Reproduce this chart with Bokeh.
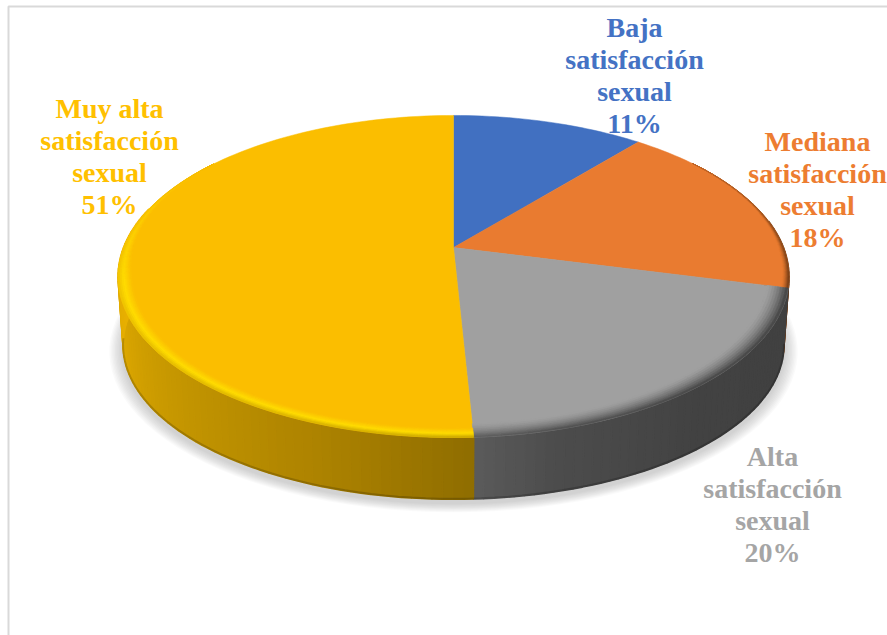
import math
from bokeh.plotting import figure
from bokeh.embed import file_html
from bokeh.resources import INLINE
from bokeh.core.properties import value

# ---- data ----
categories = ["Baja", "Mediana", "Alta", "Muy alta"]
values = [11.0, 18.0, 20.2, 50.8]
label_words = ["satisfacción", "sexual"]

# ---- styles / layout ----
face_colors = ["#4170C1", "#E97B30", "#A0A0A0", "#FBBE00"]
text_colors = ["#4472C4", "#ED7D31", "#A5A5A5", "#FFC000"]
side_stops = [
    [(0, "#2a4a80"), (360, "#2a4a80")],
    [(0, "#6e3a14"), (110, "#6e3a14")],
    [(100, "#404040"), (140, "#424242"), (165, "#4c4c4c"), (180, "#5E5E5E")],
    [(175, "#8C6B00"), (200, "#AD8300"), (230, "#C79800"), (262, "#E4AD00"), (285, "#F0B500")],
]
rim_width = [0.0, 0.02, 0.06, 0.04]
label_cx = [634, 817, 772, 109]
label_base = [27, 141, 456, 108]
line_step = 32
FONT_PX = "28px"

W, H = 887, 635

CX, CY, A, B, K = 453.0, 247.0, 330.0, 155.8, 0.18
DEPTH_SX, DEPTH_SY, DEPTH_Y = 0.985, 0.957, 317.0


def hex2rgb(h):
    return tuple(int(h[i:i + 2], 16) for i in (1, 3, 5))


def mix(c1, c2, t):
    t = max(0.0, min(1.0, t))
    a, b = hex2rgb(c1), hex2rgb(c2)
    return "#%02x%02x%02x" % tuple(round(a[i] + (b[i] - a[i]) * t) for i in range(3))


def stop_color(stops, deg):
    if deg <= stops[0][0]:
        return stops[0][1]
    for (d0, c0), (d1, c1) in zip(stops, stops[1:]):
        if deg <= d1:
            return mix(c0, c1, (deg - d0) / (d1 - d0))
    return stops[-1][1]


def top(deg, r=1.0):
    th = math.radians(deg)
    u, v = r * math.sin(th), r * math.cos(th)
    w = 1 + K * v
    return CX + A * u / w, CY - B * v / w


def bottom(deg, r=1.0):
    th = math.radians(deg)
    u, v = r * math.sin(th), r * math.cos(th)
    w = 1 + K * v
    return CX + A * DEPTH_SX * u / w, DEPTH_Y - B * DEPTH_SY * v / w


def frange(a, b, step):
    n = max(1, int(math.ceil((b - a) / step)))
    return [a + (b - a) * i / n for i in range(n + 1)]


total = sum(values)
bounds = [0.0]
for val in values:
    bounds.append(bounds[-1] + 360.0 * val / total)

p = figure(width=W, height=H, x_range=(0, W), y_range=(H, 0),
           toolbar_location=None, output_backend="svg", min_border=0)
p.axis.visible = False
p.grid.visible = False
p.outline_line_color = None
p.background_fill_color = "white"
p.border_fill_color = "white"

# chart frame
p.line([8, 8, 887], [635, 6, 6], line_color="#d9d9d9", line_width=2)

# soft shadow below the disc
for i in range(10):
    r = 1.04 - i * 0.004
    pts = [bottom(d, r) for d in frange(0, 360, 3)]
    p.patch([q[0] for q in pts], [q[1] + 4 for q in pts],
            fill_color="#808080", fill_alpha=0.04, line_color=None)

# side wall
xs, ys, cs = [], [], []
for idx in range(4):
    lo, hi = max(bounds[idx], 80), min(bounds[idx + 1], 285)
    if hi <= lo:
        continue
    ds = frange(lo, hi, 1.5)
    for d0, d1 in zip(ds, ds[1:]):
        a0, a1, b1, b0 = top(d0), top(d1), bottom(d1), bottom(d0)
        xs.append([a0[0], a1[0], b1[0], b0[0]])
        ys.append([a0[1], a1[1], b1[1], b0[1]])
        cs.append(stop_color(side_stops[idx], (d0 + d1) / 2))
p.patches(xs, ys, fill_color=cs, line_color=cs, line_width=1.5)

# darker lower edge of the wall
pts = [bottom(d) for d in frange(100, 262, 2)]
p.line([q[0] for q in pts], [q[1] - 0.5 for q in pts], line_color="#000000", line_alpha=0.18, line_width=2)

# top faces
for idx in range(4):
    pts = [(CX, CY)] + [top(d) for d in frange(bounds[idx], bounds[idx + 1], 1.5)]
    p.patch([q[0] for q in pts], [q[1] for q in pts], fill_color=face_colors[idx],
            line_color=face_colors[idx], line_width=0.5)

# bevel along the front rim
xs, ys, cs = [], [], []
N = 8
for idx in range(4):
    if rim_width[idx] == 0:
        continue
    ds = frange(bounds[idx], bounds[idx + 1], 2.0)
    for d0, d1 in zip(ds, ds[1:]):
        dm = (d0 + d1) / 2
        w = max(0.0, min(1.0, (0.6 - math.cos(math.radians(dm))) / 0.8))
        if w <= 0:
            continue
        sc = stop_color(side_stops[idx], dm)
        width = rim_width[idx] * w
        for j in range(N):
            t0, t1 = j / N, (j + 1) / N
            tm = (t0 + t1) / 2
            if idx == 3:
                hl = mix(face_colors[idx], "#FFE000", w * 0.9)
                col = mix(face_colors[idx], hl, tm / 0.6) if tm < 0.6 else mix(hl, sc, ((tm - 0.6) / 0.4) * 0.5)
            else:
                col = mix(face_colors[idx], sc, (tm ** 1.6) * (0.4 + 0.6 * w))
            r0, r1 = 1 - width * (1 - t0), 1 - width * (1 - t1)
            q = [top(d0, r0), top(d1, r0), top(d1, r1), top(d0, r1)]
            xs.append([c[0] for c in q])
            ys.append([c[1] for c in q])
            cs.append(col)
p.patches(xs, ys, fill_color=cs, line_color=cs, line_width=0.6)

# labels
for idx, name in enumerate(categories):
    lines = [name] + label_words + ["%d%%" % round(values[idx])]
    p.text([label_cx[idx]] * 4, [label_base[idx] + i * line_step for i in range(4)], text=lines,
           text_color=text_colors[idx], text_align="center", text_baseline="alphabetic",
           text_font=value("Liberation Serif"), text_font_style="bold", text_font_size=FONT_PX)

open("out.html", "w").write(file_html(p, INLINE))
